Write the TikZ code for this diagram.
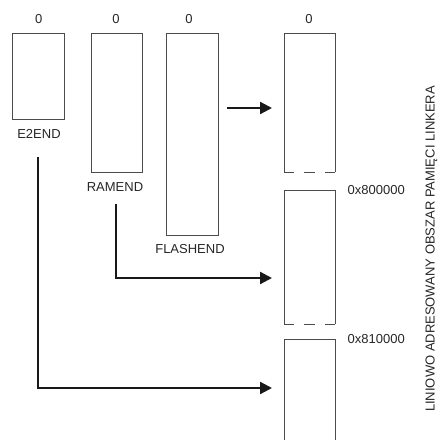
\documentclass[tikz,border=0pt]{standalone}
\usepackage{fontspec}
\setmainfont{Liberation Sans}
\usetikzlibrary{arrows.meta}
\begin{document}
\begin{tikzpicture}[x=1pt,y=-1pt,
  txt/.style={font=\fontsize{13}{15}\selectfont, text=black!85, inner sep=0pt},
  memrect/.style={draw=black!70, line width=0.9pt, inner sep=0pt, outer sep=0pt, minimum width=51.5pt},
  edge/.style={draw=black!70, line width=0.9pt},
  arr/.style={draw=black!90, line width=2.3pt, -{Triangle[length=12pt,width=12pt]}}
]
\useasboundingbox (0,0) rectangle (438,440);
% left memories
\node[memrect, minimum height=86pt] (e2) at (38.3,76) {};
\node[memrect, minimum height=139pt] (ram) at (116.7,102.5) {};
\node[memrect, minimum height=202pt] (flash) at (192.3,134) {};
\node[txt] (e2top) at (38.7,19) {0};
\node[txt] (ramtop) at (116,19) {0};
\node[txt] (flashtop) at (189,19) {0};
\node[txt] (e2lbl) at (39,134) {E2END};
\node[txt] (ramlbl) at (115,187) {RAMEND};
\node[txt] (flashlbl) at (190,249) {FLASHEND};
% linear address space
\node[inner sep=0pt, outer sep=0pt, minimum width=51pt, minimum height=139pt] (rA) at (309.5,102.5) {};
\node[inner sep=0pt, outer sep=0pt, minimum width=51pt, minimum height=134pt] (rB) at (309.5,257) {};
\node[inner sep=0pt, outer sep=0pt, minimum width=51pt, minimum height=102pt] (rC) at (309.5,390) {};
\draw[edge] (rA.south west) -- (rA.north west) -- (rA.north east) -- (rA.south east);
\draw[edge, dash pattern=on 10.2pt off 10.2pt] (rA.south west) -- (rA.south east);
\draw[edge] (rB.south west) -- (rB.north west) -- (rB.north east) -- (rB.south east);
\draw[edge, dash pattern=on 10.2pt off 10.2pt] (rB.south west) -- (rB.south east);
\draw[edge] (rC.south west) -- (rC.north west) -- (rC.north east) -- (rC.south east);
\node[txt] (rtop) at (309,19) {0};
\node[txt, anchor=west] (a800) at (347.5,190) {0x800000};
\node[txt, anchor=west] (a810) at (347.5,339) {0x810000};
\node[txt] (title) at (431.5,249) {\rotatebox{90}{LINIOWO ADRESOWANY OBSZAR PAMIĘCI LINKERA}};
% arrows
\coordinate (f1s) at (227,108);
\coordinate (f1e) at (272,108);
\coordinate (r1s) at (115.7,204);
\coordinate (r1e) at (272,278);
\coordinate (e1s) at (37.7,157);
\coordinate (e1e) at (272,388);
\draw[arr] (f1s) -- (f1e);
\draw[arr] (r1s) |- (r1e);
\draw[arr] (e1s) |- (e1e);
\end{tikzpicture}
\end{document}
